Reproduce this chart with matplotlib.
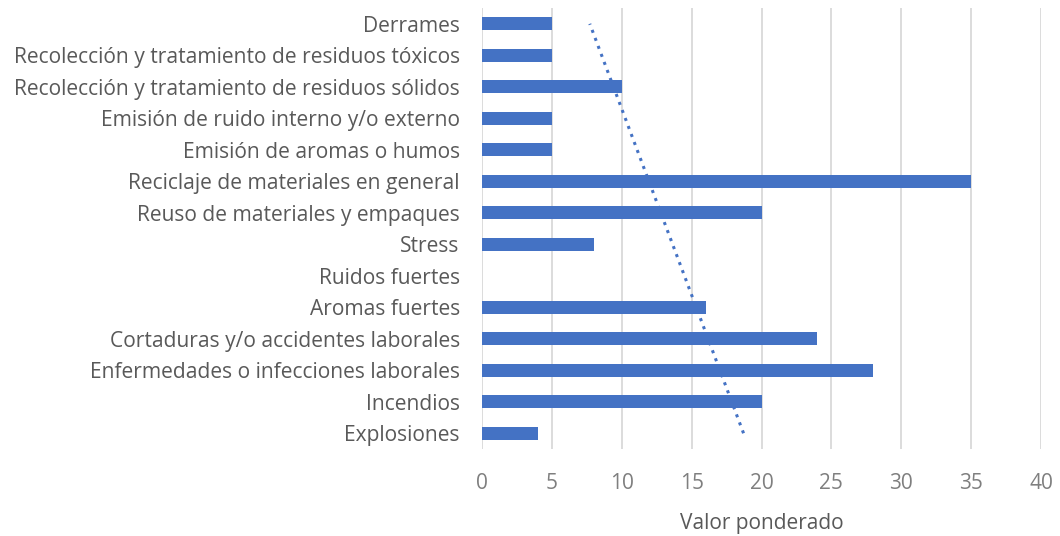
import numpy as np
import matplotlib
matplotlib.use('Agg')
import matplotlib.pyplot as plt

# categorias de arriba hacia abajo
categorias = ['Derrames',
              'Recolección y tratamiento de residuos tóxicos',
              'Recolección y tratamiento de residuos sólidos',
              'Emisión de ruido interno y/o externo',
              'Emisión de aromas o humos',
              'Reciclaje de materiales en general',
              'Reuso de materiales y empaques',
              'Stress',
              'Ruidos fuertes',
              'Aromas fuertes',
              'Cortaduras y/o accidentes laborales',
              'Enfermedades o infecciones laborales',
              'Incendios',
              'Explosiones']
valores = [5, 5, 10, 5, 5, 35, 20, 8, 0, 16, 24, 28, 20, 4]
ticks_x = [0, 5, 10, 15, 20, 25, 30, 35, 40]

plt.rcParams['font.family'] = ['Open Sans', 'DejaVu Sans']

# Excel dibuja la primera categoria abajo
cats = categorias[::-1]
vals = np.array(valores[::-1], dtype=float)
pos = np.arange(1, len(cats) + 1)

fig = plt.figure(figsize=(10.6, 5.36), dpi=100)
ax = fig.add_axes([0.4547, 0.1623, 0.5274, 0.8227])

ax.barh(pos, vals, height=0.4, color='#4472C4', zorder=3)

# linea de tendencia lineal
m, b = np.polyfit(pos, vals, 1)
ax.plot(m * pos + b, pos, linestyle=(0, (1, 1.8)), color='#4472C4',
        linewidth=2.2, zorder=2)

ax.set_xlim(0, 40)
ax.set_ylim(0.5, len(cats) + 0.5)
ax.set_xticks(ticks_x)
ax.set_yticks(pos)
ax.set_yticklabels(cats)
ax.xaxis.grid(True, color='#d9d9d9', linewidth=1.3, zorder=0)
ax.set_axisbelow(True)
for s in ax.spines.values():
    s.set_visible(False)
ax.tick_params(axis='y', length=0, pad=16, labelsize=15.1, labelcolor='#595959')
ax.tick_params(axis='x', length=0, pad=17, labelsize=15, labelcolor='#7f7f7f')
ax.set_xlabel('Valor ponderado', fontsize=15, color='#595959', labelpad=14)

plt.savefig('out.png', dpi=100)
